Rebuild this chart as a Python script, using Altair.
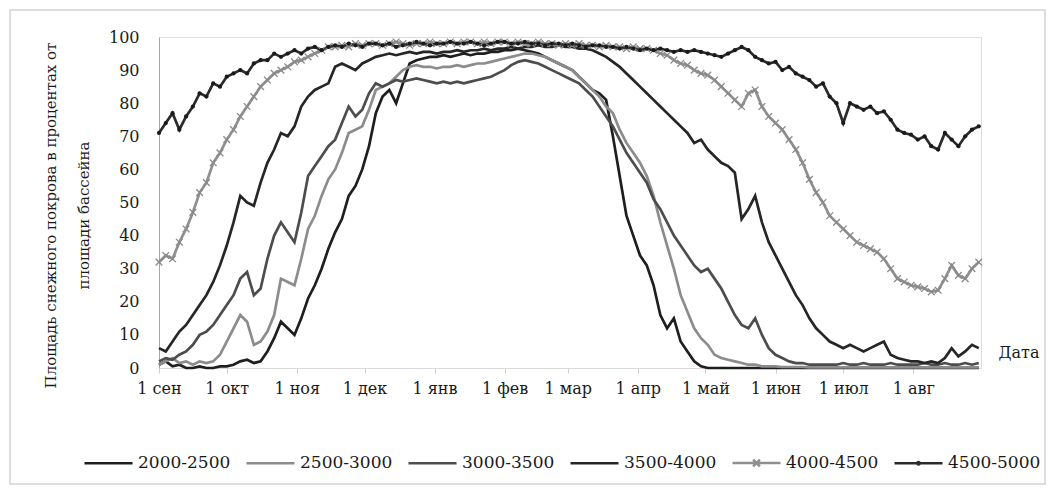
import altair as alt
import pandas as pd

# ---------------- data ----------------
SERIES = ["2000-2500", "2500-3000", "3000-3500", "3500-4000", "4000-4500", "4500-5000"]
COLORS = ["#1e1e1e", "#8c8c8c", "#4d4d4d", "#262626", "#8f8f8f", "#2b2b2b"]

MONTH_DAYS = [0, 30, 61, 91, 122, 153, 181, 212, 242, 273, 303, 334]
MONTH_LABELS = ["1 сен", "1 окт", "1 ноя", "1 дек", "1 янв", "1 фев",
                "1 мар", "1 апр", "1 май", "1 июн", "1 июл", "1 авг"]
Y_TICKS = [0, 10, 20, 30, 40, 50, 60, 70, 80, 90, 100]

# sampling days (every 3rd day of the hydrological year, 1 Sep = day 0)
STEP_DAYS = list(range(0, 364, 3))

V_2000_2500 = [
    1, 2, 0.5, 1, 0, 0, 0.5, 0, 0, 0.5,
    0.5, 1, 2, 2.5, 1.5, 2, 5, 9, 14, 12,
    10, 15, 21, 25, 30, 36, 41, 45, 52, 55,
    60, 67, 77, 82, 84, 80, 86, 92, 93, 93.5,
    94, 94, 94.5, 94, 94.5, 95, 94.5, 95, 95, 95.5,
    95.5, 96, 96, 96.5, 96, 95.5, 95, 94, 93, 92,
    91, 90, 88, 86, 84, 83, 81, 70, 58, 46,
    40, 34, 31, 25, 16, 12, 15, 8, 5, 2,
    0.5, 0, 0, 0, 0, 0, 0, 0, 0, 0,
    0, 0, 0, 0, 0, 0, 0, 0, 0, 0,
    0, 0, 0, 0, 0, 0, 0, 0, 0, 0,
    0, 0, 0, 0, 0, 0, 0, 0, 0, 0,
    0, 0,
]
V_2500_3000 = [
    1, 2, 3, 1.5, 2, 1, 2, 1.5, 2, 4,
    8, 12, 16, 14, 7, 8, 11, 16, 27, 26,
    25, 33, 42, 46, 52, 57, 60, 65, 71, 72,
    73, 78, 84, 85, 86, 88, 90, 91, 91.5, 91,
    91, 90.5, 91, 91, 91.5, 91, 91.5, 92, 92, 92.5,
    93, 93.5, 94, 94.5, 95, 95, 94.5, 94, 93, 92,
    91, 90, 88, 86, 84, 82, 79, 77, 72, 68,
    65, 62, 58, 52, 44, 37, 30, 22, 17, 12,
    9, 7, 4, 3, 2.5, 2, 1.5, 1, 1, 0.5,
    0.5, 0.5, 0.3, 0.3, 0.3, 0.3, 0.2, 0.2, 0.2, 0.2,
    0.2, 0.2, 0.2, 0.2, 0.2, 0.2, 0.2, 0.2, 0.2, 0.2,
    0.2, 0.2, 0.2, 0.2, 0.2, 0.2, 0.2, 0.2, 0.2, 0.2,
    0.2, 0.2,
]
V_3000_3500 = [
    2, 3, 2.5, 4, 5, 7, 10, 11, 13, 16,
    19, 22, 27, 29, 22, 24, 33, 40, 44, 41,
    38, 47, 58, 61, 64, 67, 69, 74, 79, 76,
    78, 83, 86, 85, 86, 87, 86.5, 87, 87.5, 87,
    86.5, 86, 86.5, 86, 86.5, 86, 86.5, 87, 87.5, 88,
    89, 90, 91.5, 92.5, 93, 92.5, 92, 91, 90, 89,
    88, 87, 86, 84, 82, 79, 76, 73, 69, 65,
    62, 59, 56, 51, 48, 44, 40, 37, 34, 31,
    29, 30, 27, 24, 20, 16, 13, 12, 15, 10,
    6, 4, 3, 2, 1.5, 1.5, 1, 1, 1, 1,
    1, 1.5, 1, 1, 1.5, 1, 1, 1, 1.5, 1,
    1, 1, 1, 1.5, 1, 1, 1.5, 1, 1, 1.5,
    1, 1.5,
]
V_3500_4000 = [
    6, 5, 8, 11, 13, 16, 19, 22, 26, 31,
    37, 44, 52, 50, 49, 56, 62, 66, 71, 70,
    73, 79, 82, 84, 85, 86, 91, 92, 91, 90,
    92, 93, 94, 94.5, 95, 94.5, 95, 95.5, 95, 95.5,
    95.5, 95, 95.5, 95.5, 96, 95.5, 96, 96, 96.5, 96,
    96.5, 96.5, 97, 96.5, 97, 97, 97.5, 97, 97, 97.5,
    97, 97, 96.5, 96.5, 96, 95, 94, 92.5, 91, 89,
    87, 85, 83, 81, 79, 77, 75, 73, 71, 68,
    69, 66, 64, 62, 61, 59, 45, 48, 52, 44,
    38, 34, 30, 26, 22, 19, 15, 12, 10, 8,
    7, 6, 7, 6, 5, 6, 7, 8, 4, 3,
    2.5, 2, 2, 1.5, 2, 1.5, 3, 6, 3.5, 5,
    7, 6,
]
V_4000_4500 = [
    32, 34, 33, 38, 42, 47, 53, 56, 62, 65,
    69, 72, 76, 79, 82, 85, 87, 89, 90, 91,
    92.5, 93, 94, 95, 96, 97, 97, 97.5, 97, 98,
    97.5, 98, 98, 97.5, 98, 98.5, 98, 97.5, 98, 98,
    98.5, 98, 98, 98.5, 98, 98.5, 98.5, 98, 98.5, 98,
    98.5, 98.5, 98, 98.5, 98, 98, 98.5, 98, 98, 97.5,
    98, 97.5, 98, 97.5, 97.5, 97, 97.5, 97, 97, 96.5,
    97, 96.5, 96.5, 96, 95, 94.5, 93, 92, 91.5, 90,
    89, 88.5, 87, 85, 83, 81, 79, 83, 84, 79,
    76, 74, 72, 69, 66, 62, 57, 53, 50, 46,
    44, 42, 40, 38, 37, 36, 35, 33, 30, 27,
    26, 25, 24.5, 24, 23, 23.5, 27, 31, 28, 27,
    30, 32,
]
V_4500_5000 = [
    71, 74, 77, 72, 76, 79, 83, 82, 86, 85,
    88, 89, 90, 89, 92, 93, 93, 95, 94, 95,
    96, 95, 96.5, 97, 96, 97, 97.5, 97, 98, 97.5,
    97, 98, 98, 97.5, 98, 97, 97.5, 98, 98.5, 98,
    97.5, 98, 98, 98.5, 98, 98, 98.5, 98, 97.5, 98,
    98.5, 98.5, 98, 98, 98.5, 98, 98, 97.5, 98, 98,
    97.5, 98, 97.5, 97, 97.5, 97.5, 97, 97, 96.5, 97,
    96.5, 96, 96.5, 96, 96.5, 96, 95.5, 96, 95.5, 96,
    95.5, 95, 94.5, 94, 95, 96, 97, 96, 94, 93,
    92, 92.5, 90, 91, 89, 88, 87, 85, 86, 82,
    80, 74, 80, 79, 78, 79, 77, 77.5, 75, 72,
    71, 70.5, 69, 70, 67, 66, 71, 69, 67, 70,
    72, 73,
]

ALL_VALUES = [V_2000_2500, V_2500_3000, V_3000_3500, V_3500_4000, V_4000_4500, V_4500_5000]

rows = []
for name, vals in zip(SERIES, ALL_VALUES):
    for d, v in zip(STEP_DAYS, vals):
        rows.append({"series": name, "day": d, "value": v})
df = pd.DataFrame(rows)

FONT = "DejaVu Serif"
TEXT = "#1a1a1a"

# legend symbol shapes: plain line, line with a cross, line with a dot
LINE_SHAPE = "M-1,0L1,0"
CROSS_SHAPE = "M-1,0L1,0M-0.14,-0.14L0.14,0.14M-0.14,0.14L0.14,-0.14"
DOT_SHAPE = "M-1,0L1,0M-0.05,0A0.05,0.05 0 1,0 0.05,0A0.05,0.05 0 1,0 -0.05,0"
LEGEND_SHAPES = [LINE_SHAPE, LINE_SHAPE, LINE_SHAPE, LINE_SHAPE, CROSS_SHAPE, DOT_SHAPE]

label_expr = ("[" + ",".join("'%s'" % s for s in MONTH_LABELS) + "][indexof(["
              + ",".join(str(d) for d in MONTH_DAYS) + "], datum.value)]")

x_axis = alt.Axis(
    values=MONTH_DAYS, labelExpr=label_expr, grid=False,
    domainColor="#d9d9d9", tickColor="#cfcfcf", tickSize=5, ticks=True,
    labelFont=FONT, labelFontSize=16, labelColor=TEXT, labelPadding=7,
    labelFlush=False, labelOverlap=False,
    title="Дата", titleFont=FONT, titleFontSize=16, titleFontWeight="normal",
    titleColor=TEXT, titleX=839, titleY=-16, titleAlign="left",
    titleBaseline="middle", titleAngle=0,
)
y_axis = alt.Axis(
    values=Y_TICKS, grid=False, ticks=False, domainColor="#a6a6a6",
    labelFont=FONT, labelFontSize=16, labelColor=TEXT, labelPadding=20,
    labelOverlap=False, labelFlush=False, labelBound=False,
    title=["Площадь снежного покрова в процентах от", "площади бассейна"],
    titleFont=FONT, titleFontSize=15, titleFontWeight="normal", titleColor=TEXT,
    titleX=-109, titleY=178, titleAngle=270, titleAlign="center",
    titleBaseline="middle", titleLineHeight=33,
)
x_scale = alt.Scale(domain=[0, 364], nice=False, zero=False)
y_scale = alt.Scale(domain=[0, 100], nice=False)

x_enc = alt.X("day:Q", scale=x_scale, axis=x_axis)
y_enc = alt.Y("value:Q", scale=y_scale, axis=y_axis)

legend = alt.Legend(
    orient="none", legendX=-76, legendY=400, direction="horizontal", columns=6,
    title=None, symbolSize=2304, symbolStrokeWidth=2.6,
    labelFont=FONT, labelFontSize=17, labelColor=TEXT, labelOffset=4,
    columnPadding=10, padding=0, labelLimit=200,
)

color_enc = alt.Color("series:N", scale=alt.Scale(domain=SERIES, range=COLORS), legend=legend)

lines = alt.Chart(df).mark_line(strokeWidth=2.7, interpolate="linear").encode(
    x=x_enc, y=y_enc, color=color_enc,
)

# empty layer: only supplies the legend's symbol shapes
legend_layer = alt.Chart(df).transform_filter("false").mark_point(
    filled=False, strokeWidth=2.6, opacity=1,
).encode(
    x=x_enc, y=y_enc, color=color_enc,
    shape=alt.Shape("series:N", scale=alt.Scale(domain=SERIES, range=LEGEND_SHAPES), legend=legend),
)

crosses = alt.Chart(df).transform_filter(alt.datum.series == "4000-4500").mark_point(
    shape="M-1,-1L1,1M-1,1L1,-1", filled=False, size=45, strokeWidth=1.3,
    color="#8a8a8a", opacity=1,
).encode(x=x_enc, y=y_enc)

dots = alt.Chart(df).transform_filter(alt.datum.series == "4500-5000").mark_point(
    shape="circle", filled=True, size=18, color="#1a1a1a", opacity=1,
).encode(x=x_enc, y=y_enc)

frame = alt.Chart(pd.DataFrame({"f": [0]})).mark_rect(
    filled=False, stroke="#d4d4d4", strokeWidth=1.5,
).encode(x=alt.value(-149), x2=alt.value(886), y=alt.value(-27), y2=alt.value(447))

chart = alt.layer(lines, legend_layer, crosses, dots, frame).properties(
    width=822, height=331,
    padding={"left": 151, "top": 29, "right": 66, "bottom": 120},
    autosize=alt.AutoSizeParams(type="none"),
).configure_view(stroke="#d9d9d9", strokeWidth=1).configure_axisY(
    labelOverlap=False
).configure(background="white")

chart.save("out.html", embed_options={"renderer": "svg", "actions": False})
